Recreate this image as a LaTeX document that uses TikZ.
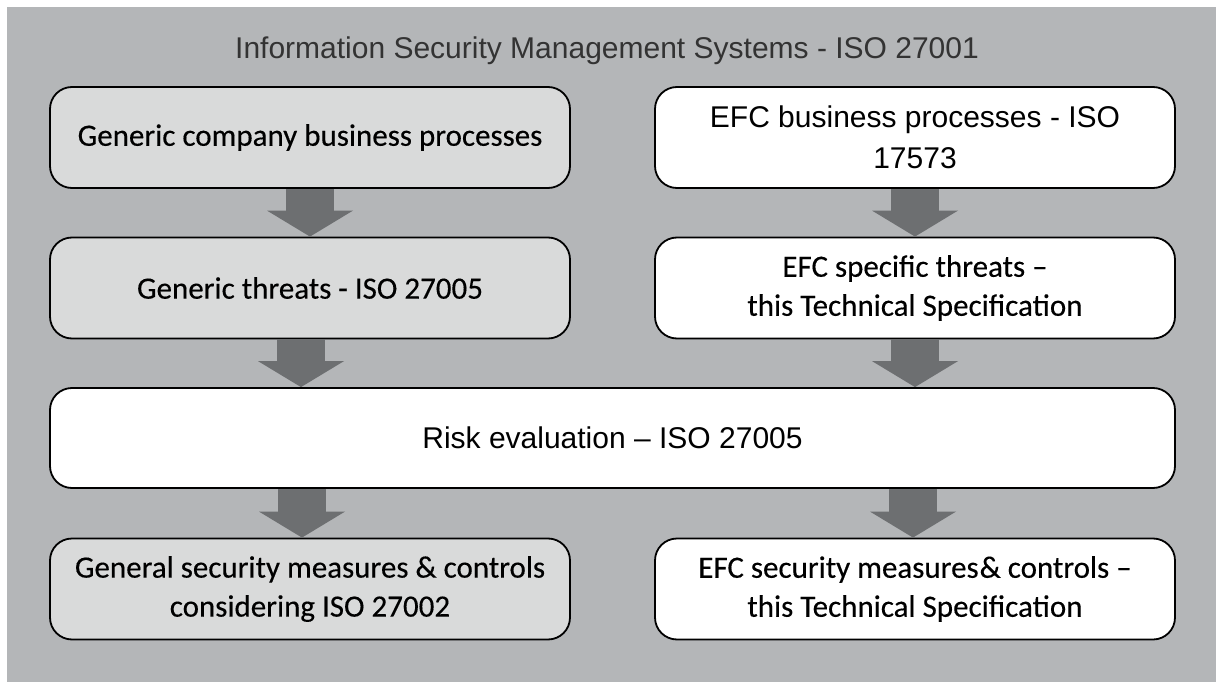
\documentclass[tikz,border=0pt]{standalone}
\usepackage{fontspec}
\setmainfont{Liberation Sans}
\newfontfamily\calfnt[FakeBold=0.3]{Carlito}
\usetikzlibrary{arrows.meta,calc}
\definecolor{bg}{HTML}{B4B6B8}
\definecolor{boxgrey}{HTML}{D9DADA}
\definecolor{arr}{HTML}{6D6F71}
\tikzset{
  box/.style={draw=black,line width=1.8pt,rounded corners=22pt,
    minimum width=520pt,minimum height=101pt,inner sep=0pt,align=center,
    text=black},
  gbox/.style={box,fill=boxgrey},
  wbox/.style={box,fill=white},
  cf/.style={font=\calfnt\fontsize{31}{39}\selectfont},
  af/.style={font=\fontsize{30}{41}\selectfont},
  fat/.style={draw=arr,line width=48pt,
    -{Triangle[length=26pt,width=86pt,line width=0pt]}},
}

\begin{document}
\begin{tikzpicture}[x=1pt,y=-1pt]
\useasboundingbox (0,0) rectangle (1216,682);
\fill[bg] (7,7) rectangle (1216,682);
\node[font=\fontsize{30}{36}\selectfont,text=black!80] (title) at (607,51)
  {Information Security Management Systems - ISO 27001};
% left column
\node[gbox,cf] (gen) at (310,137.5) {Generic company business processes};
\node[gbox,cf] (gthr) at (310,288) {Generic threats - ISO 27005};
\node[gbox,cf] (gmeas) at (310,589) {General security measures \& controls\\considering ISO 27002};
% right column
\node[wbox,af] (efc) at (915,137.5) {EFC business processes - ISO\\17573};
\node[wbox,cf] (ethr) at (915,288) {EFC specific threats –\\this Technical Specification};
\node[wbox,cf] (emeas) at (915,589) {EFC security measures\kern1pt\& controls –\\this Technical Specification};
% middle
\node[wbox,af,minimum width=1125pt,minimum height=100pt] (risk) at (612.5,438) {Risk evaluation – ISO 27005};
% arrows
\draw[fat] (gen.south) -- (gthr.north);
\draw[fat] (efc.south) -- (ethr.north);
\draw[fat] ([xshift=-9pt]gthr.south) -- ([xshift=-9pt]gthr.south |- risk.north);
\draw[fat] (ethr.south) -- (ethr.south |- risk.north);
\draw[fat] ([xshift=-8pt]gmeas.north |- risk.south) -- ([xshift=-8pt]gmeas.north);
\draw[fat] ([xshift=-2pt]emeas.north |- risk.south) -- ([xshift=-2pt]emeas.north);
\end{tikzpicture}
\end{document}
